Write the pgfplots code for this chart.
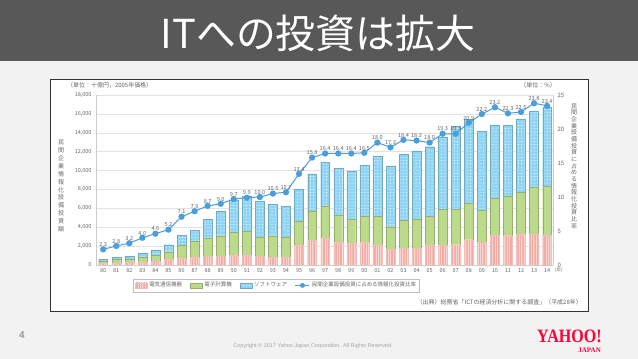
\documentclass[border=0pt]{standalone}
\usepackage{fontspec}
\setmainfont{Noto Sans CJK JP}
\newfontfamily\logofont{Liberation Serif}
\newfontfamily\latinsans{Liberation Sans}
\usepackage{pgfplots}
\usepackage{pgfplotstable}
\pgfplotsset{compat=1.18}
\usetikzlibrary{patterns.meta}
\definecolor{banner}{HTML}{585858}
\definecolor{slidebg}{HTML}{F2F2F2}
\definecolor{pinkc}{HTML}{FAD4CF}
\definecolor{pinkd}{HTML}{F2ACA5}
\definecolor{greenc}{HTML}{BCDA8C}
\definecolor{bluec}{HTML}{8FD4F2}
\definecolor{linec}{HTML}{4A9EDC}
\definecolor{txtg}{HTML}{666666}
\definecolor{yred}{HTML}{FF0033}
\pgfplotstableread{
x pink green blue rate
0 200 230 190 2.3
1 230 350 240 2.8
2 250 400 310 3.2
3 330 490 470 4.0
4 430 610 560 4.6
5 620 790 740 5.2
6 700 1350 1100 7.1
7 780 1760 1160 7.9
8 920 1870 2060 8.7
9 920 2180 2620 9.0
10 990 2470 3430 9.7
11 1060 2540 3640 9.9
12 920 2050 3740 10.0
13 810 2290 3360 10.5
14 810 2160 3210 10.7
15 2110 2520 3400 13.4
16 2600 3100 3940 15.8
17 2820 3380 4680 16.4
18 2400 2850 4990 16.4
19 2300 2540 5120 16.4
20 2400 2720 5470 16.5
21 2120 3000 6430 18.0
22 1660 2400 6430 17.3
23 1770 3000 6950 18.4
24 1770 3100 7210 18.3
25 2120 3000 7410 18.0
26 2080 3820 7600 19.3
27 2150 3750 8750 19.3
28 2680 3820 8930 20.9
29 2400 3370 8350 22.2
30 3140 3920 7770 23.2
31 3100 4140 7590 22.3
32 3250 4450 7760 22.5
33 3270 4960 8080 23.8
34 3200 5150 8350 23.4
}\data
\begin{document}
\begin{tikzpicture}
% slide background
\fill[slidebg] (0bp,0bp) rectangle (638bp,359bp);
\fill[banner] (0bp,298bp) rectangle (638bp,359bp);
\node[text=white, font=\fontsize{40}{40}\selectfont] at (318bp,326bp) {ITへの投資は拡大};
% chart box
\filldraw[fill=white, draw=black!80, line width=0.8bp] (50bp,48bp) rectangle (588bp,280bp);
% unit labels
\node[anchor=west, text=txtg, font=\fontsize{6}{7}\selectfont, inner sep=0] at (67bp,274bp) {（単位：十億円，2005年価格）};
\node[anchor=east, text=txtg, font=\fontsize{6}{7}\selectfont, inner sep=0] at (556bp,274bp) {（単位：\%）};
% vertical titles
\node[text=txtg, font=\fontsize{6}{7.9}\selectfont, align=center, inner sep=0] at (61bp,173bp) {民\\間\\企\\業\\情\\報\\化\\設\\備\\投\\資\\額};
\node[text=txtg, font=\fontsize{6}{6.7}\selectfont, align=center, inner sep=0] at (574bp,193bp) {民\\間\\企\\業\\設\\備\\投\\資\\に\\占\\め\\る\\情\\報\\化\\投\\資\\比\\率};
\begin{axis}[
  name=main,
  at={(96bp,94bp)}, anchor=south west,
  scale only axis, width=457bp, height=170bp,
  xmin=-0.55, xmax=34.45, ymin=0, ymax=18000,
  ybar stacked, bar width=0.68,
  axis y line*=left, axis x line*=bottom,
  axis line style={draw=gray!40, line width=0.5bp},
  ytick={0,2000,...,18000},
  scaled y ticks=false,
  /pgf/number format/fixed,
  /pgf/number format/1000 sep={,},
  /pgf/number format/assume math mode=true,
  ymajorgrids, grid style={draw=gray!22, line width=0.5bp},
  major tick length=0pt,
  xtick={0,...,34},
  xticklabels={80,81,82,83,84,85,86,87,88,89,90,91,92,93,94,95,96,97,98,99,00,01,02,03,04,05,06,07,08,09,10,11,12,13,14},
  tick label style={font=\fontsize{5.5}{6}\selectfont, text=txtg},
  yticklabel style={xshift=-1bp},
  xticklabel style={yshift=-0.5bp},
  legend style={at={(0.395,-0.12)}, anchor=center, legend columns=4, draw=gray!50, line width=0.4bp,
    font=\fontsize{5.5}{6}\selectfont, text=txtg, inner sep=1.5bp,
    /tikz/every even column/.append style={column sep=6bp}},
  legend image code/.code={\draw[#1] (0bp,-2.5bp) rectangle (12bp,2.5bp);},
]
\addplot[fill=pinkc, draw=pinkd!80, line width=0.3bp, postaction={pattern={Lines[angle=90,distance=1.7bp,line width=0.5bp]}, pattern color=pinkd}] table[x=x,y=pink]{\data};
\addlegendentry{電気通信機器}
\addplot[fill=greenc, draw=greenc!80!black, line width=0.3bp] table[x=x,y=green]{\data};
\addlegendentry{電子計算機}
\addplot[fill=bluec, draw=bluec!80!black, line width=0.3bp, postaction={pattern={Dots[distance=3.2bp,radius=0.55bp]}, pattern color=white}] table[x=x,y=blue]{\data};
\addlegendentry{ソフトウェア}
\addlegendimage{legend image code/.code={\draw[linec, line width=1bp] (0bp,0bp) -- (14bp,0bp); \fill[linec] (7bp,0bp) circle (2.2bp);}}
\addlegendentry{民間企業設備投資に占める情報化投資比率}
\end{axis}
\begin{axis}[
  at={(main.south west)}, anchor=south west,
  scale only axis, width=457bp, height=170bp,
  xmin=-0.55, xmax=34.45, ymin=0, ymax=25,
  axis y line*=right, hide x axis,
  axis line style={draw=gray!40, line width=0.5bp},
  ytick={0,5,...,25},
  major tick length=0pt,
  /pgf/number format/assume math mode=true,
  tick label style={font=\fontsize{6}{6}\selectfont, text=txtg},
  yticklabel style={xshift=1bp},
]
\addplot[color=linec, line width=1bp, mark=*, mark size=2.6bp,
  nodes near coords={\pgfmathprintnumber[fixed,fixed zerofill,precision=1]{\pgfplotspointmeta}},
  point meta=y,
  every node near coord/.append style={font=\fontsize{5.6}{6}\selectfont, text=txtg, anchor=south, yshift=1.2bp, inner sep=1bp}]
  table[x=x,y=rate]{\data};
\end{axis}
\node[text=txtg, font=\fontsize{4.5}{5}\selectfont, anchor=west, inner sep=0] at (555bp,88.5bp) {(年)};
% source
\node[anchor=east, text=txtg, font=\fontsize{6}{7}\selectfont, inner sep=0] at (582bp,57bp) {（出典）総務省「ICTの経済分析に関する調査」（平成28年）};
% footer
\node[text=gray!80, font=\latinsans\bfseries\fontsize{10}{10}\selectfont] at (22bp,24bp) {4};
\node[text=gray!70, font=\latinsans\fontsize{5.5}{6}\selectfont] at (313bp,13bp) {Copyright \textcopyright\ 2017 Yahoo Japan Corporation. All Rights Reserved.};
\node[text=yred, font=\logofont\bfseries\fontsize{19}{19}\selectfont, xscale=0.85, anchor=east, inner sep=0] at (602bp,23bp) {YAHOO!};
\node[text=yred, font=\logofont\bfseries\fontsize{7}{7}\selectfont, anchor=east, inner sep=0] at (601bp,9bp) {JAPAN};
\end{tikzpicture}
\end{document}
